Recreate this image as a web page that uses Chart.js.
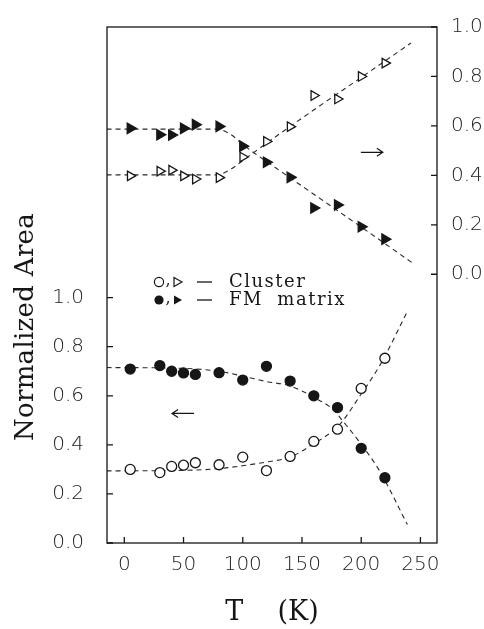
<!DOCTYPE html>
<html>
<head>
<meta charset="utf-8">
<script src="https://cdn.jsdelivr.net/npm/chart.js@4.4.0/dist/chart.umd.min.js"></script>
<style>
  html, body { margin: 0; padding: 0; background: #fff; }
  #wrap { width: 484px; height: 629px; }
</style>
</head>
<body>
<div id="wrap"><canvas id="areaChart"></canvas></div>
<script>
// measurement temperatures (K)
var temps = [5, 30, 40, 50, 60, 80, 100, 120, 140, 160, 180, 200, 220];

// lower panel, left axis: circles
var fmArea      = [0.709, 0.723, 0.700, 0.693, 0.687, 0.694, 0.664, 0.720, 0.660, 0.600, 0.552, 0.386, 0.266];
var clusterArea = [0.300, 0.287, 0.312, 0.317, 0.327, 0.319, 0.350, 0.295, 0.353, 0.414, 0.464, 0.630, 0.753];

// upper panel, right axis: triangles
var fmUpper      = [0.590, 0.564, 0.563, 0.590, 0.605, 0.598, 0.518, 0.453, 0.392, 0.268, 0.280, 0.192, 0.142];
var clusterUpper = [0.398, 0.417, 0.421, 0.398, 0.385, 0.391, 0.474, 0.537, 0.597, 0.723, 0.709, 0.800, 0.854];

// dashed guide curves
var lowFitT       = [-15, 40, 80, 100, 120, 140, 160, 177, 184, 199, 216, 239];
var fmLowFit      = [0.715, 0.713, 0.700, 0.680, 0.658, 0.640, 0.594, 0.541, 0.500, 0.409, 0.290, 0.075];
var clusterLowFit = [0.294, 0.295, 0.303, 0.315, 0.330, 0.350, 0.405, 0.460, 0.495, 0.600, 0.726, 0.944];

var fmUpFitT      = [-15, 78, 90, 100, 140, 200, 245];
var fmUpFit       = [0.587, 0.587, 0.565, 0.525, 0.390, 0.191, 0.040];
var clusterUpFitT = [-15, 78, 90, 100, 140, 200, 242];
var clusterUpFit  = [0.402, 0.402, 0.425, 0.460, 0.598, 0.796, 0.935];

// tick labels
var xTicks = [0, 50, 100, 150, 200, 250];
var yTicks = [0, 0.2, 0.4, 0.6, 0.8, 1.0];

var ink = '#161616';
var tickFont = { family: 'DejaVu Sans', size: 20, weight: 300 };

function pts(xs, ys) {
  return xs.map(function (x, i) { return { x: x, y: ys[i] }; });
}

function markers(ys, axis, style, filled, r) {
  return {
    data: pts(temps, ys),
    yAxisID: axis,
    showLine: false,
    pointStyle: style,
    rotation: style === 'triangle' ? 90 : 0,
    pointRadius: r,
    pointBorderWidth: 1.3,
    pointBorderColor: ink,
    pointBackgroundColor: filled ? ink : '#fff'
  };
}

function guide(xs, ys, axis) {
  return {
    data: pts(xs, ys),
    yAxisID: axis,
    showLine: true,
    pointRadius: 0,
    borderColor: '#2a2a2a',
    borderWidth: 1.1,
    borderDash: [5, 4],
    cubicInterpolationMode: 'monotone',
    fill: false
  };
}

function fixedTicks(list) {
  return function (scale) {
    scale.ticks = list.map(function (v) { return { value: v }; });
  };
}

// frame, inward tick marks, axis title, key and arrows
var decorations = {
  id: 'decorations',
  afterDraw: function (chart) {
    var ctx = chart.ctx, a = chart.chartArea, s = chart.scales;
    ctx.save();
    ctx.strokeStyle = ink;
    ctx.lineWidth = 1.3;
    ctx.strokeRect(a.left, a.top, a.right - a.left, a.bottom - a.top);

    ctx.beginPath();
    xTicks.forEach(function (v) {
      var px = s.x.getPixelForValue(v);
      ctx.moveTo(px, a.bottom); ctx.lineTo(px, a.bottom - 6);
    });
    yTicks.forEach(function (v) {
      var py = s.y.getPixelForValue(v);
      ctx.moveTo(a.left, py); ctx.lineTo(a.left + 6, py);
      var qy = s.y2.getPixelForValue(v);
      ctx.moveTo(a.right, qy); ctx.lineTo(a.right - 6, qy);
    });
    ctx.stroke();

    // y title, centred on the lower panel
    ctx.fillStyle = ink;
    ctx.save();
    ctx.translate(33, 327);
    ctx.rotate(-Math.PI / 2);
    ctx.font = '26px "DejaVu Serif"';
    ctx.letterSpacing = '0.3px';
    ctx.textAlign = 'center';
    ctx.textBaseline = 'alphabetic';
    ctx.fillText('Normalized Area', 0, 0);
    ctx.restore();

    // key
    function row(y, filled, text) {
      var cx = a.left + 52;
      ctx.beginPath();
      ctx.arc(cx, y, 4.6, 0, Math.PI * 2);
      if (filled) { ctx.fill(); } else { ctx.lineWidth = 1.2; ctx.stroke(); }
      ctx.font = '16px "DejaVu Serif"';
      ctx.textAlign = 'center';
      ctx.textBaseline = 'alphabetic';
      ctx.fillText(',', cx + 9, y + 3);
      ctx.beginPath();
      ctx.moveTo(cx + 15, y - 4.5);
      ctx.lineTo(cx + 15, y + 4.5);
      ctx.lineTo(cx + 23, y);
      ctx.closePath();
      if (filled) { ctx.fill(); } else { ctx.stroke(); }
      ctx.beginPath();
      ctx.lineWidth = 1.3;
      ctx.moveTo(cx + 38, y); ctx.lineTo(cx + 53, y);
      ctx.stroke();
      ctx.font = '18px "DejaVu Serif"';
      ctx.letterSpacing = '1.5px';
      ctx.textAlign = 'left';
      ctx.textBaseline = 'middle';
      ctx.fillText(text, cx + 70, y);
      ctx.letterSpacing = '0px';
    }
    row(a.top + 255, false, 'Cluster');
    row(a.top + 273, true, 'FM  matrix');

    // arrows pointing to the axis each panel uses
    function arrow(cx, cy, dir) {
      var tip = cx + dir * 11;
      ctx.beginPath();
      ctx.lineWidth = 1.2;
      ctx.moveTo(cx - dir * 11, cy); ctx.lineTo(tip, cy);
      ctx.moveTo(tip - dir * 6, cy - 4); ctx.lineTo(tip, cy); ctx.lineTo(tip - dir * 6, cy + 4);
      ctx.stroke();
    }
    arrow(s.x.getPixelForValue(209), s.y2.getPixelForValue(0.493), 1);
    arrow(s.x.getPixelForValue(49.6), s.y.getPixelForValue(0.528), -1);

    ctx.restore();
  }
};

new Chart(document.getElementById('areaChart').getContext('2d'), {
  type: 'scatter',
  data: {
    datasets: [
      markers(fmArea, 'y', 'circle', true, 5),
      markers(clusterArea, 'y', 'circle', false, 5),
      markers(fmUpper, 'y2', 'triangle', true, 6),
      markers(clusterUpper, 'y2', 'triangle', false, 5.5),
      guide(lowFitT, fmLowFit, 'y'),
      guide(lowFitT, clusterLowFit, 'y'),
      guide(fmUpFitT, fmUpFit, 'y2'),
      guide(clusterUpFitT, clusterUpFit, 'y2')
    ]
  },
  options: {
    responsive: true,
    maintainAspectRatio: false,
    animation: false,
    layout: { padding: { top: 13, left: 0, right: 0, bottom: 0 } },
    plugins: { legend: { display: false }, tooltip: { enabled: false } },
    scales: {
      x: {
        type: 'linear',
        min: -14.6,
        max: 264,
        afterBuildTicks: fixedTicks(xTicks),
        afterFit: function (s) { s.height = 86; },
        grid: { display: false },
        border: { display: false },
        ticks: { font: tickFont, color: '#222', padding: 2, maxRotation: 0, autoSkip: false },
        title: {
          display: true,
          text: 'T    (K)',
          font: { family: 'DejaVu Serif', size: 27 },
          color: ink,
          padding: 0
        }
      },
      y: {
        position: 'left',
        min: 0,
        max: 2.103,
        afterBuildTicks: fixedTicks(yTicks),
        afterFit: function (s) { s.width = 107; },
        grid: { display: false },
        border: { display: false },
        ticks: { font: tickFont, color: '#222', padding: 15, autoSkip: false,
                 callback: function (v) { return v.toFixed(1); } }
      },
      y2: {
        position: 'right',
        min: -1.087,
        max: 1.0,
        afterBuildTicks: fixedTicks(yTicks),
        afterFit: function (s) { s.width = 47; },
        grid: { display: false },
        border: { display: false },
        ticks: { font: tickFont, color: '#222', padding: 6, autoSkip: false,
                 callback: function (v) { return v.toFixed(1); } }
      }
    }
  },
  plugins: [decorations]
});
</script>
</body>
</html>
